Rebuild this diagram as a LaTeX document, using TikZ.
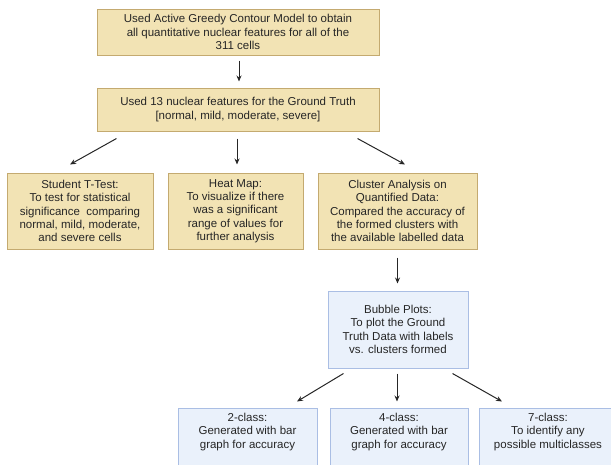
\documentclass[tikz,border=0pt]{standalone}
\usepackage{fontspec}
\setmainfont{Liberation Sans}
\usepackage{tikz}
\usetikzlibrary{arrows.meta,positioning}
\usetikzlibrary{shapes.geometric, arrows}

\definecolor{tanfill}{RGB}{242,227,180}
\definecolor{tanline}{RGB}{196,170,112}
\definecolor{bluefill}{RGB}{234,241,251}
\definecolor{blueline}{RGB}{170,190,228}

\begin{document}
\begin{tikzpicture}[x=1pt, y=-1pt, node distance=100pt]
		\tikzstyle{tanbox} = [rectangle, minimum height=76pt, inner sep=4pt, align=center, 
		font=\fontsize{11.5}{13.3}\selectfont, text=black!85, draw=tanline, line width=1pt, fill=tanfill]
		\tikzstyle{bluebox} = [rectangle, minimum height=76pt, inner sep=4pt, align=center, 
		font=\fontsize{11.5}{13.3}\selectfont, text=black!85, draw=blueline, line width=1pt, fill=bluefill]
		\tikzstyle{arrow} = [line width=1pt, draw=black!85, -{Stealth[length=6pt,width=5pt]}]
		\useasboundingbox (0,0) rectangle (611,464);
		\clip (0,0) rectangle (611,464);
		\node (contour) [tanbox, minimum width=282pt, minimum height=46pt] at (238,32) {Used Active Greedy Contour Model to obtain\\ all quantitative nuclear features for all of the\\ 311 cells};
		\node (truth) [tanbox, minimum width=282pt, minimum height=43pt, node distance=77.5pt, below of=contour] {Used 13 nuclear features for the Ground Truth\\ {[}normal, mild, moderate, severe{]}};
		\node (ttest) [tanbox, minimum width=146pt, node distance=101.5pt, below of=truth, xshift=-158pt] {Student T-Test:\\ To test for statistical\\ significance~ comparing\\ normal, mild, moderate,\\ and severe cells};
		\node (heatmap) [tanbox, minimum width=135pt, node distance=101.5pt, below of=truth, xshift=-2.5pt] {Heat Map:\\ To visualize if there\\ was a significant\\ range of values for\\ further analysis};
		\node (cluster) [tanbox, minimum width=159pt, node distance=101.5pt, below of=truth, xshift=159.5pt] {Cluster Analysis on\\ Quantified Data:\\ Compared the accuracy of\\ the formed clusters with\\ the available labelled data};
		\node (bubble) [bluebox, minimum width=140pt, minimum height=77pt, node distance=118.5pt, below of=cluster, xshift=0.5pt] {Bubble Plots:\\ To plot the Ground\\ Truth Data with labels\\ vs. clusters formed};
		\node (twoclass) [bluebox, minimum width=139pt, node distance=116.5pt, below of=bubble, xshift=-150.5pt] {2-class:\\ Generated with bar\\ graph for accuracy\\ \strut\\ \strut};
		\node (fourclass) [bluebox, minimum width=138pt, node distance=116.5pt, below of=bubble, xshift=1pt] {4-class:\\ Generated with bar\\ graph for accuracy\\ \strut\\ \strut};
		\node (sevenclass) [bluebox, minimum width=138pt, node distance=116.5pt, below of=bubble, xshift=150pt] {7-class:\\ To identify any\\ possible multiclasses\\ \strut\\ \strut};
		\draw [arrow] ([xshift=1pt,yshift=-5pt]contour.south) -- ([xshift=1pt,yshift=6pt]truth.north);
		\draw [arrow] ([xshift=20pt,yshift=-7pt]truth.south west) -- ([xshift=-10pt,yshift=8pt]ttest.north);
		\draw [arrow] ([xshift=-1pt,yshift=-7pt]truth.south) -- ([xshift=-1pt,yshift=8pt]truth.south |- heatmap.north);
		\draw [arrow] ([xshift=-22pt,yshift=-7pt]truth.south east) -- ([xshift=7.5pt,yshift=8pt]cluster.north);
		\draw [arrow] ([yshift=-8pt]cluster.south) -- ([yshift=7pt]cluster.south |- bubble.north);
		\draw [arrow] ([xshift=16pt,yshift=-5pt]bubble.south west) -- ([xshift=49.5pt,yshift=6pt]twoclass.north);
		\draw [arrow] ([xshift=-1pt,yshift=-5pt]bubble.south) -- ([xshift=-1pt,yshift=6pt]bubble.south |- fourclass.north);
		\draw [arrow] ([xshift=-16pt,yshift=-5pt]bubble.south east) -- ([xshift=-46pt,yshift=6pt]sevenclass.north);
		\end{tikzpicture}
\end{document}
